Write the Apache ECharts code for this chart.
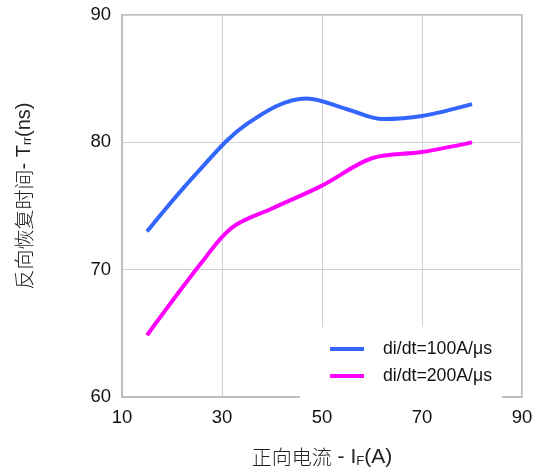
<!DOCTYPE html>
<html><head><meta charset="utf-8">
<script src="https://cdn.jsdelivr.net/npm/echarts@6/dist/echarts.min.js"></script>
<style>html,body{margin:0;padding:0;background:#fff;overflow:hidden}#c{width:537px;height:470px}</style>
</head><body><div id="c"></div>
<script>
const xTicks = [10, 30, 50, 70, 90];
const yTicks = [60, 70, 80, 90];
const seriesNames = ['di/dt=100A/μs', 'di/dt=200A/μs'];
const xs100 = [15, 25, 35, 46.9, 55, 62.2, 70, 80];
const ys100 = [73.0, 77.6, 81.45, 83.45, 82.6, 81.83, 82.07, 83.0];
const xs200 = [15, 26, 32, 40, 50, 60, 70, 80];
const ys200 = [64.85, 70.6, 73.3, 74.8, 76.6, 78.75, 79.24, 80.0];

const chart = echarts.init(document.getElementById('c'));
const font = 'Liberation Sans, Arial, sans-serif';
const cjk = 'Noto Sans CJK SC, sans-serif';
chart.setOption({
  animation: false,
  backgroundColor: '#fff',
  grid: { left: 122, right: 15, top: 15, bottom: 73, containLabel: false, outerBoundsMode: 'none', show: true, borderColor: '#bfbfbf', borderWidth: 2, backgroundColor: 'transparent' },
  xAxis: {
    type: 'value', min: xTicks[0], max: xTicks[xTicks.length - 1], interval: 20,
    axisLine: { show: true, lineStyle: { color: '#bfbfbf', width: 2 } },
    axisTick: { show: false },
    splitLine: { show: true, lineStyle: { color: '#d0d0d0', width: 1 } },
    axisLabel: { color: '#111', fontSize: 18.5, fontFamily: font, margin: 11 },
    name: '{c|正向电流}{l| - I}{s|F}{l|(A)}', nameLocation: 'middle', nameGap: 50,
    nameTextStyle: { rich: {
      c: { fontSize: 20, fontFamily: cjk, color: '#222', fontWeight: 300 },
      l: { fontSize: 21, fontFamily: font, color: '#222' },
      s: { fontSize: 13, fontFamily: font, color: '#222', verticalAlign: 'bottom', padding: [7, 0, 0, 0] }
    } }
  },
  yAxis: {
    type: 'value', min: yTicks[0], max: yTicks[yTicks.length - 1], interval: 10,
    axisLine: { show: true, lineStyle: { color: '#bfbfbf', width: 2 } },
    axisTick: { show: false },
    splitLine: { show: true, lineStyle: { color: '#d0d0d0', width: 1 } },
    axisLabel: { color: '#111', fontSize: 18.5, fontFamily: font, margin: 11 },
    name: '{c|反向恢复时间}{l|- T}{s|rr}{l|(ns)}', nameLocation: 'middle', nameGap: 88, nameRotate: 90,
    nameTextStyle: { padding: [0, 0, 0, 20], rich: {
      c: { fontSize: 20, fontFamily: cjk, color: '#222', fontWeight: 300 },
      l: { fontSize: 20, fontFamily: font, color: '#222' },
      s: { fontSize: 12, fontFamily: font, color: '#222', verticalAlign: 'bottom', padding: [7, 0, 0, 0] }
    } }
  },
  legend: {
    orient: 'vertical', left: 300, top: 327,
    backgroundColor: '#fff',
    padding: [13, 10, 14, 30],
    itemWidth: 34, itemHeight: 4, itemGap: 9,
    icon: 'rect',
    data: seriesNames,
    textStyle: { fontSize: 17.7, fontFamily: font, color: '#111', padding: [0, 0, 0, 14] }
  },
  series: [
    { name: seriesNames[0], type: 'line', smooth: 0.35, showSymbol: false,
      lineStyle: { color: '#3366ff', width: 4 }, itemStyle: { color: '#3366ff' },
      data: xs100.map((x, i) => [x, ys100[i]]) },
    { name: seriesNames[1], type: 'line', smooth: 0.35, showSymbol: false,
      lineStyle: { color: '#ff00ff', width: 4 }, itemStyle: { color: '#ff00ff' },
      data: xs200.map((x, i) => [x, ys200[i]]) }
  ]
});
</script></body></html>
